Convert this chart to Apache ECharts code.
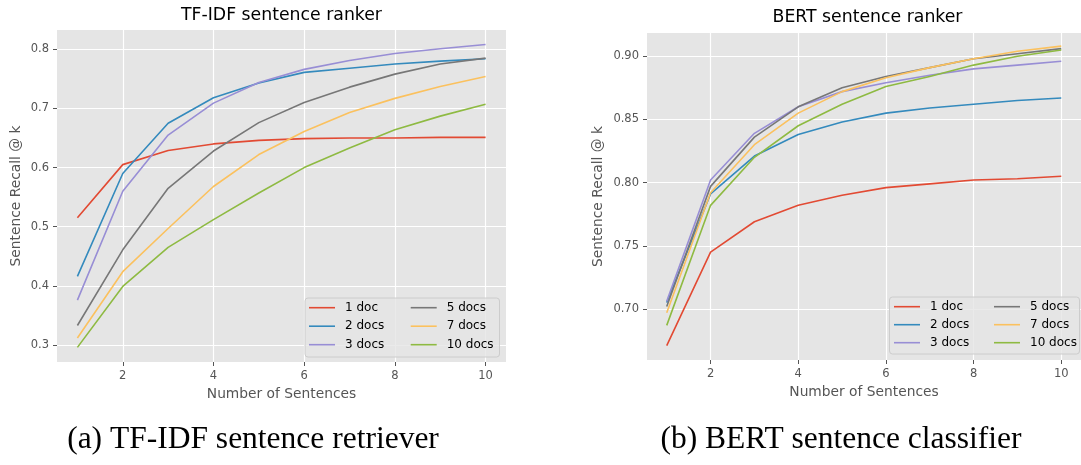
<!DOCTYPE html>
<html>
<head>
<meta charset="utf-8">
<script src="https://cdn.jsdelivr.net/npm/echarts@6/dist/echarts.min.js"></script>
<style>
html,body{margin:0;padding:0;background:#fff;}
#chart{width:1081px;height:465px;}
</style>
</head>
<body>
<div id="chart"></div>
<script>
// ---- data ----
const sentences = [1, 2, 3, 4, 5, 6, 7, 8, 9, 10];
const seriesNames = ['1 doc', '2 docs', '3 docs', '5 docs', '7 docs', '10 docs'];
const xTicks = [2, 4, 6, 8, 10];
const tfidfYTicks = [0.3, 0.4, 0.5, 0.6, 0.7, 0.8];
const bertYTicks = [0.70, 0.75, 0.80, 0.85, 0.90];

const tfidf1doc  = [0.515, 0.605, 0.629, 0.640, 0.646, 0.649, 0.650, 0.650, 0.651, 0.651];
const tfidf2docs = [0.416, 0.590, 0.675, 0.718, 0.743, 0.761, 0.768, 0.775, 0.780, 0.784];
const tfidf3docs = [0.376, 0.560, 0.655, 0.709, 0.744, 0.766, 0.781, 0.793, 0.801, 0.808];
const tfidf5docs = [0.333, 0.461, 0.565, 0.628, 0.676, 0.710, 0.736, 0.758, 0.775, 0.785];
const tfidf7docs = [0.312, 0.424, 0.497, 0.568, 0.622, 0.661, 0.693, 0.717, 0.737, 0.754];
const tfidf10docs= [0.296, 0.399, 0.465, 0.512, 0.557, 0.600, 0.633, 0.664, 0.687, 0.707];

const bert1doc   = [0.671, 0.745, 0.769, 0.782, 0.790, 0.796, 0.799, 0.802, 0.803, 0.805];
const bert2docs  = [0.705, 0.791, 0.821, 0.838, 0.848, 0.855, 0.859, 0.862, 0.865, 0.867];
const bert3docs  = [0.706, 0.802, 0.839, 0.860, 0.872, 0.879, 0.885, 0.890, 0.893, 0.896];
const bert5docs  = [0.702, 0.797, 0.836, 0.860, 0.875, 0.884, 0.891, 0.898, 0.902, 0.906];
const bert7docs  = [0.697, 0.792, 0.830, 0.855, 0.872, 0.883, 0.891, 0.898, 0.904, 0.908];
const bert10docs = [0.687, 0.782, 0.820, 0.845, 0.862, 0.876, 0.884, 0.893, 0.900, 0.905];

const tfidfData = [tfidf1doc, tfidf2docs, tfidf3docs, tfidf5docs, tfidf7docs, tfidf10docs];
const bertData = [bert1doc, bert2docs, bert3docs, bert5docs, bert7docs, bert10docs];

// ---- styles ----
const colors = ['#E24A33', '#348ABD', '#988ED5', '#777777', '#FBC15E', '#8EBA42'];
const FONT = 'DejaVu Sans';
const tickColor = '#555555';

function xAxisFor(gridIndex) {
  return {
    type: 'value', gridIndex: gridIndex, min: 0.55, max: 10.45,
    name: 'Number of Sentences', nameLocation: 'middle', nameGap: 25,
    nameTextStyle: {fontFamily: FONT, fontSize: 13.8, color: tickColor},
    axisLine: {show: false},
    axisTick: {show: true, customValues: xTicks, length: 4, lineStyle: {color: tickColor, width: 1}},
    axisLabel: {customValues: xTicks, fontFamily: FONT, fontSize: 11.5, color: tickColor, margin: 8},
    splitLine: {show: true, lineStyle: {color: '#ffffff', width: 1.2}}
  };
}
function yAxisFor(gridIndex, min, max, ticks, digits, gap) {
  return {
    type: 'value', gridIndex: gridIndex, min: min, max: max,
    name: 'Sentence Recall @ k', nameLocation: 'middle', nameGap: gap, nameRotate: 90,
    nameTextStyle: {fontFamily: FONT, fontSize: 13.8, color: tickColor},
    axisLine: {show: false},
    axisTick: {show: true, customValues: ticks, length: 4, lineStyle: {color: tickColor, width: 1}},
    axisLabel: {customValues: ticks, fontFamily: FONT, fontSize: 11.5, color: tickColor, margin: 8,
      formatter: v => Number(v).toFixed(digits)},
    splitLine: {show: true, lineStyle: {color: '#ffffff', width: 1.2}}
  };
}

const series = [];
[tfidfData, bertData].forEach((ds, gi) => {
  ds.forEach((vals, i) => {
    series.push({
      type: 'line', name: seriesNames[i], xAxisIndex: gi, yAxisIndex: gi,
      data: sentences.map((x, k) => [x, vals[k]]),
      symbol: 'none', smooth: false,
      lineStyle: {color: colors[i], width: 1.6},
      itemStyle: {color: colors[i]},
      z: 2
    });
  });
});

function legendFor(left, top, names, gap) {
  return {
    orient: 'vertical', left: left, top: top, padding: 0, itemGap: gap,
    itemWidth: 26, itemHeight: 14, data: names, selectedMode: false,
    icon: 'path://M0,0L26,0L26,1.6L0,1.6Z',
    textStyle: {fontFamily: FONT, fontSize: 12, color: '#000', padding: [0, 0, 0, 5]},
    z: 10
  };
}

const option = {
  animation: false,
  backgroundColor: '#ffffff',
  color: colors,
  grid: [
    {left: 57, top: 30, width: 449, height: 332, show: true, backgroundColor: '#E5E5E5', borderWidth: 0},
    {left: 647, top: 33, width: 441, height: 327, show: true, backgroundColor: '#E5E5E5', borderWidth: 0}
  ],
  xAxis: [xAxisFor(0), xAxisFor(1)],
  yAxis: [
    yAxisFor(0, 0.2713, 0.8326, tfidfYTicks, 1, 34),
    yAxisFor(1, 0.6596, 0.9184, bertYTicks, 2, 42)
  ],
  legend: [
    legendFor(309, 301.7, seriesNames.slice(0, 3), 6.5),
    legendFor(410.7, 301.7, seriesNames.slice(3), 6.5),
    legendFor(894, 300.7, seriesNames.slice(0, 3), 6),
    legendFor(994, 300.7, seriesNames.slice(3), 6)
  ],
  graphic: [
    {type: 'rect', shape: {x: 305, y: 298, width: 194.5, height: 59, r: 3}, z: 5,
      style: {fill: 'rgba(229,229,229,0.8)', stroke: '#cccccc', lineWidth: 1}},
    {type: 'rect', shape: {x: 889.5, y: 297, width: 190, height: 57, r: 3}, z: 5,
      style: {fill: 'rgba(229,229,229,0.8)', stroke: '#cccccc', lineWidth: 1}},
    {type: 'text', x: 281.5, y: 16, z: 10,
      style: {text: 'TF-IDF sentence ranker', fontFamily: FONT, fontSize: 17.3, fill: '#000', align: 'center', verticalAlign: 'middle'}},
    {type: 'text', x: 867.5, y: 18, z: 10,
      style: {text: 'BERT sentence ranker', fontFamily: FONT, fontSize: 17.3, fill: '#000', align: 'center', verticalAlign: 'middle'}},
    {type: 'text', x: 253, y: 440, z: 10,
      style: {text: '(a) TF-IDF sentence retriever', fontFamily: 'Liberation Serif', fontSize: 31.5, fill: '#000', align: 'center', verticalAlign: 'middle'}},
    {type: 'text', x: 841, y: 440, z: 10,
      style: {text: '(b) BERT sentence classifier', fontFamily: 'Liberation Serif', fontSize: 31.5, fill: '#000', align: 'center', verticalAlign: 'middle'}}
  ],
  series: series
};

const chart = echarts.init(document.getElementById('chart'));
chart.setOption(option);
</script>
</body>
</html>
